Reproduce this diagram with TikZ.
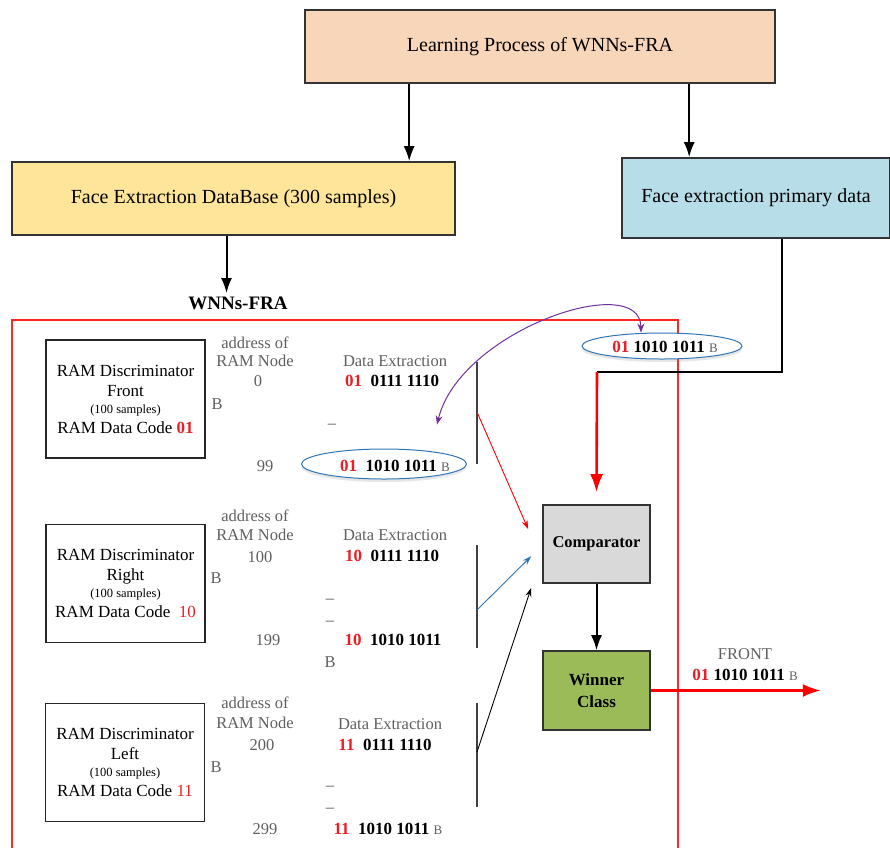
\documentclass[tikz,border=0pt]{standalone}
\usepackage{fontspec}
\setmainfont{Liberation Serif}
\usetikzlibrary{arrows.meta,positioning,shapes.geometric,shadows}
\definecolor{Peach}{RGB}{248,214,186}
\definecolor{Sand}{RGB}{255,229,153}
\definecolor{SkyBox}{RGB}{183,222,232}
\definecolor{CompGray}{RGB}{217,217,217}
\definecolor{WinGreen}{RGB}{155,187,89}
\definecolor{CodeRed}{RGB}{235,30,35}
\definecolor{AddrGray}{RGB}{95,95,95}
\definecolor{LinkBlue}{RGB}{46,117,182}
\definecolor{LinkPurple}{RGB}{112,48,160}
\newcommand{\rc}[1]{\textcolor{CodeRed}{#1}}
\newcommand{\gb}{{\mdseries\color{AddrGray}\fontsize{13}{14}\selectfont B}}

\begin{document}
\begin{tikzpicture}[x=1pt,y=-1pt,
    mainbox/.style={draw=black!80,line width=1.6pt,inner sep=0pt,font=\fontsize{20}{24}\selectfont},
    rambox/.style={draw=black!85,line width=1.6pt,minimum width=159pt,minimum height=118pt,
      align=center,font=\fontsize{17}{20}\selectfont},
    addr/.style={text=AddrGray,inner sep=1pt,font=\fontsize{16.5}{18}\selectfont},
    code/.style={inner sep=1pt,font=\fontsize{17}{18}\selectfont\bfseries},
    codeell/.style={draw=LinkBlue,ellipse,line width=1pt,inner sep=0pt,fill=white,
      drop shadow={opacity=0.2,shadow xshift=0pt,shadow yshift=-3pt}},
    arr/.style={line width=2pt,-{Latex[length=15pt,width=11pt]}}]
\useasboundingbox (0,0) rectangle (890,847);

% top boxes
\node[mainbox,fill=Peach,minimum width=470pt,minimum height=73pt] (lp) at (540,46.5) {Learning Process of WNNs-FRA};
\node[mainbox,fill=Sand,minimum width=443pt,minimum height=73pt] (db) at (233.5,198.5) {Face Extraction DataBase (300 samples)};
\node[mainbox,fill=SkyBox,minimum width=268pt,minimum height=80pt] (pd) at (756,198) {Face extraction primary data};

\coordinate (lpL) at ([xshift=105pt]lp.south west);
\coordinate (lpR) at ([xshift=385pt]lp.south west);
\draw[arr] (lpL) -- (lpL |- db.north);
\draw[arr] (lpR) -- (lpR |- pd.north);

\node[font=\fontsize{19}{20}\selectfont\bfseries] (wnn) at (238,303) {WNNs-FRA};
\draw[arr] ([xshift=-7pt]db.south) -- ([xshift=-7pt]db.south |- wnn.north);

% WNNs-FRA frame
\draw[red!85,line width=1.4pt] (12,320) rectangle (678,870);

% RAM discriminators
\node[rambox] (ram1) at (125.5,399) {RAM Discriminator\\Front\\[-3pt]{\fontsize{12.5}{14}\selectfont(100 samples)}\\RAM Data Code \textbf{\rc{01}}};
\node[rambox] (ram2) at (125.5,583.5) {RAM Discriminator\\Right\\[-3pt]{\fontsize{12.5}{14}\selectfont(100 samples)}\\RAM Data Code\ \ \rc{10}};
\node[rambox] (ram3) at (125,762.5) {RAM Discriminator\\Left\\[-3pt]{\fontsize{12.5}{14}\selectfont(100 samples)}\\RAM Data Code \rc{11}};

% addresses, first group
\node[addr] (a1) at (255,343) {address of};
\node[addr] (n1) at (255,361) {RAM Node};
\node[addr] (s1) at (258,381) {0};
\node[addr] (u1) at (217,404) {B};
\node[addr] (t1) at (265,466) {99};
\node[addr] (x1) at (395,361) {Data Extraction};
\node[code] (c1) at (392,381) {\rc{01}\ \ 0111 1110};
\node[addr] (d1) at (332,426) {--};
\node[codeell,minimum width=165pt,minimum height=30pt] (e1) at (384,464) {};
\node[code] (k1) at (395,466) {\rc{01}\ \ 1010 1011 \gb};

% second group
\node[addr] (a2) at (255,516) {address of};
\node[addr] (n2) at (255,535) {RAM Node};
\node[addr] (s2) at (260,557) {100};
\node[addr] (u2) at (216,578) {B};
\node[addr] (t2) at (268,640) {199};
\node[addr] (x2) at (395,535) {Data Extraction};
\node[code] (c2) at (392,556) {\rc{10}\ \ 0111 1110};
\node[addr] (d2) at (330,601) {--};
\node[addr] (d2b) at (330,623) {--};
\node[code] (k2) at (393,640) {\rc{10}\ \ 1010 1011};
\node[addr] (v2) at (330,662) {B};

% third group
\node[addr] (a3) at (255,703) {address of};
\node[addr] (n3) at (255,723) {RAM Node};
\node[addr] (s3) at (262,745) {200};
\node[addr] (u3) at (216,767) {B};
\node[addr] (t3) at (265,829) {299};
\node[addr] (x3) at (390,724) {Data Extraction};
\node[code] (c3) at (385,745) {\rc{11}\ \ 0111 1110};
\node[addr] (d3) at (330,788) {--};
\node[addr] (d3b) at (330,810) {--};
\node[code] (k3) at (388,829) {\rc{11}\ \ 1010 1011 \gb};

% collecting bars
\coordinate (b1t) at (477,362); \coordinate (b1b) at (477,464); \coordinate (b1m) at (477,412);
\coordinate (b2t) at (477,545); \coordinate (b2b) at (477,648); \coordinate (b2m) at (477,610);
\coordinate (b3t) at (477,703); \coordinate (b3b) at (477,807); \coordinate (b3m) at (477,752);
\draw[black!75,line width=1.6pt] (b1t) -- (b1b);
\draw[black!75,line width=1.6pt] (b2t) -- (b2b);
\draw[black!75,line width=1.6pt] (b3t) -- (b3b);

% comparator and winner
\node[draw=black!80,line width=1.6pt,fill=CompGray,minimum width=107pt,minimum height=78pt,
  font=\fontsize{16.5}{18}\selectfont\bfseries] (cmp) at (596.5,544) {Comparator};
\node[draw=black!80,line width=1.6pt,fill=WinGreen,minimum width=107pt,minimum height=79pt,align=center,
  font=\fontsize{17}{22}\selectfont\bfseries] (win) at (596.5,690.5) {Winner\\Class};

\draw[red,line width=0.9pt,-{Stealth[length=9pt,width=6pt]}] (b1m) -- ([xshift=-14pt,yshift=-25pt]cmp.north west);
\draw[LinkBlue,line width=0.9pt,-{Stealth[length=9pt,width=6pt]}] (b2m) -- ([xshift=-11pt,yshift=-52pt]cmp.north west);
\draw[black,line width=0.9pt,-{Stealth[length=9pt,width=6pt]}] (b3m) -- ([xshift=-11pt,yshift=-4pt]cmp.south west);
\draw[arr] (cmp) -- (win);

% primary data path
\node[codeell,minimum width=160pt,minimum height=26pt] (e0) at (662,346) {};
\node[code] (k0) at (665,347) {\rc{01} 1010 1011 \gb};
\coordinate (cmpIn) at (597,372);
\draw[line width=2pt] ([xshift=26pt]pd.south) |- (cmpIn);
\draw[red,line width=2.6pt,-{Latex[length=18pt,width=13pt]}] (cmpIn) -- ([yshift=12pt]cmp.north);

\draw[LinkPurple,line width=1pt,{Stealth[length=9pt,width=7pt]}-{Stealth[length=9pt,width=7pt]}]
  ([xshift=53pt,yshift=24pt]e1.north) .. controls (460,330) and (640,270) .. ([xshift=-21pt]e0.north);

% output
\draw[red,line width=2.6pt,-{Latex[length=18pt,width=13pt]}] (win.east) -- ++(170,0) coordinate (out);
\node[addr] (front) at (745,654) {FRONT};
\node[code] (fcode) at (745,675) {\rc{01} 1010 1011 \gb};
\end{tikzpicture}
\end{document}
